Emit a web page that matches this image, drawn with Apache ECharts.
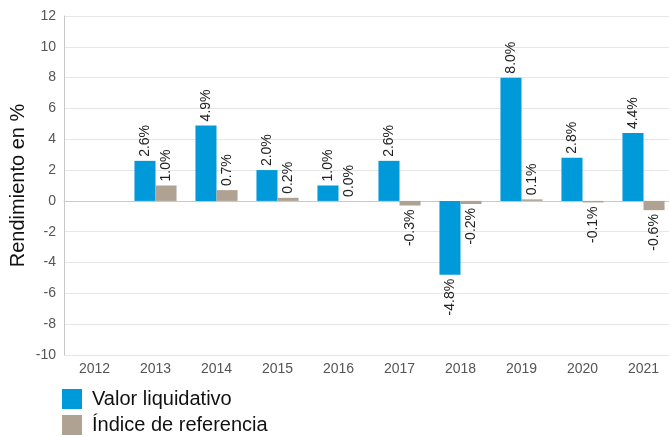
<!DOCTYPE html>
<html><head><meta charset="utf-8">
<script src="https://cdn.jsdelivr.net/npm/echarts@6/dist/echarts.min.js"></script>
<style>html,body{margin:0;padding:0;background:#fff}#c{width:669px;height:436px}</style>
</head><body><div id="c"></div>
<script>
const categories = ['2012','2013','2014','2015','2016','2017','2018','2019','2020','2021'];
const valorLiquidativo = [null, 2.6, 4.9, 2.0, 1.0, 2.6, -4.8, 8.0, 2.8, 4.4];
const indiceReferencia = [null, 1.0, 0.7, 0.2, 0.0, -0.3, -0.2, 0.1, -0.1, -0.6];
const seriesNames = ['Valor liquidativo', 'Índice de referencia'];
const font = 'Liberation Sans, Arial, sans-serif';
function lbl() {
  return {
    show: true, position: 'top', rotate: 90, align: 'left', verticalAlign: 'middle',
    distance: 4, fontSize: 14, fontFamily: font, color: '#222',
    formatter: p => p.value.toFixed(1) + '%'
  };
}
function mkData(arr) {
  return arr.map(v => v === null ? null : (v < 0 ? {value: v, label: {position: 'bottom', align: 'right'}} : v));
}
function legendFor(name, top) {
  return {
    orient: 'vertical', left: 57, top: top, itemWidth: 20, itemHeight: 20,
    icon: 'rect', textStyle: {fontSize: 20, color: '#111', fontFamily: font, padding: [0, 0, 0, 5]},
    data: [name]
  };
}
const chart = echarts.init(document.getElementById('c'), null, {renderer: 'canvas'});
chart.setOption({
  animation: false,
  textStyle: {fontFamily: font},
  grid: {left: 64, top: 16, width: 610, bottom: 81, containLabel: false, outerBoundsMode: 'none'},
  legend: [legendFor(seriesNames[0], 384), legendFor(seriesNames[1], 410)],
  xAxis: {
    type: 'category', data: categories,
    axisLine: {lineStyle: {color: '#c8c8c8'}}, axisTick: {show: false},
    axisLabel: {fontSize: 14, color: '#555', margin: 7}
  },
  yAxis: {
    type: 'value', min: -10, max: 12, interval: 2,
    name: 'Rendimiento en %', nameLocation: 'middle', nameGap: 36, nameMoveOverlap: false,
    nameTextStyle: {fontSize: 20, color: '#111'},
    axisLine: {show: true, lineStyle: {color: '#c8c8c8'}}, axisTick: {show: false},
    axisLabel: {fontSize: 14, color: '#555', margin: 8},
    splitLine: {lineStyle: {color: '#e6e6e6'}}
  },
  series: [
    {name: seriesNames[0], type: 'bar', data: mkData(valorLiquidativo), barGap: 0, barCategoryGap: '31%',
     itemStyle: {color: '#0099da'}, label: lbl()},
    {name: seriesNames[1], type: 'bar', data: mkData(indiceReferencia),
     itemStyle: {color: '#b0a293'}, label: lbl()}
  ]
});
</script></body></html>
